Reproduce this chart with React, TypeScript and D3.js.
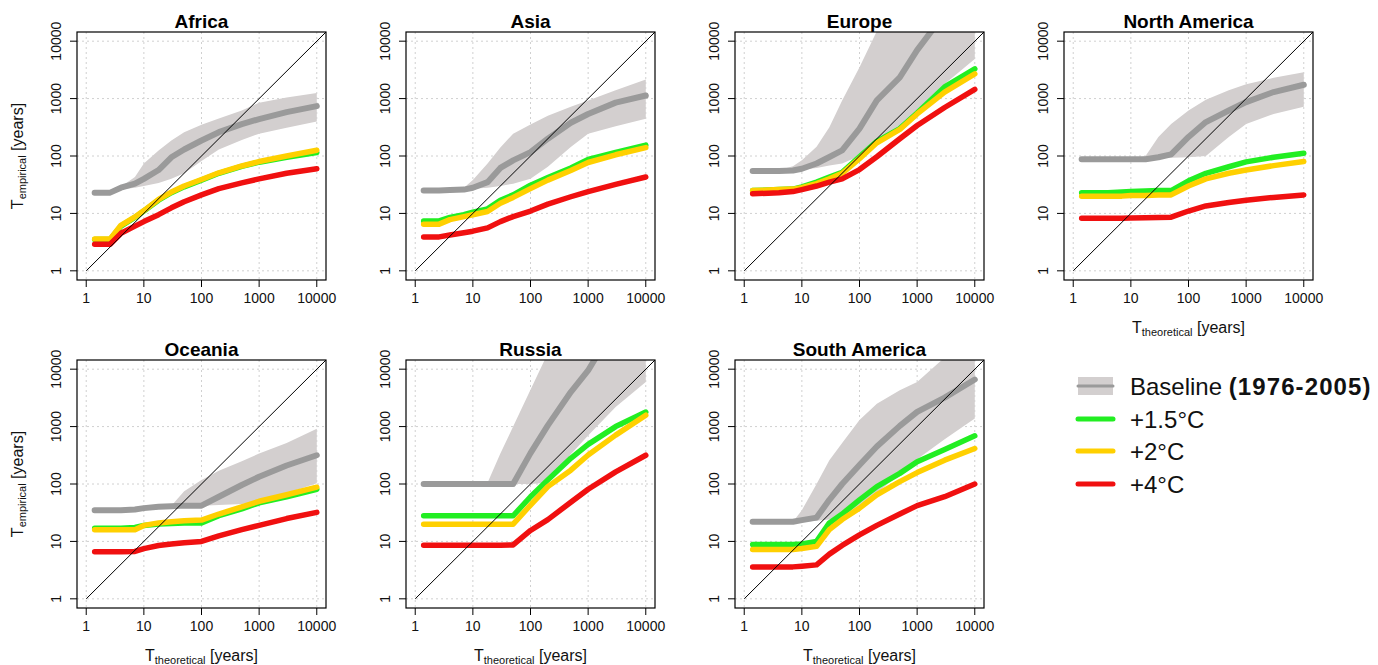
import React from "react";
import * as d3 from "d3";

// Common theoretical return periods (x grid, years)
const XS = [1.4, 2.6, 4, 7, 10, 18, 30, 50, 100, 200, 500, 1000, 3000, 10000];
const TICKS = [1, 10, 100, 1000, 10000];
const TICK_LABELS = ["1", "10", "100", "1000", "10000"];

// Africa
const AF_BASE = [23, 23, 28, 33, 40, 57, 95, 130, 186, 260, 360, 440, 580, 740];
const AF_LO = [23, 23, 26, 28, 30, 34, 40, 50, 82, 130, 190, 245, 310, 400];
const AF_HI = [23, 23, 29, 43, 74, 125, 186, 260, 350, 450, 620, 850, 1050, 1250];
const AF_P15 = [3.5, 3.5, 6, 8.5, 11, 17, 23, 29, 38, 50, 66, 78, 95, 115];
const AF_P2 = [3.6, 3.6, 6.2, 8.7, 11.2, 17.5, 23.5, 30, 39, 51, 67, 80, 100, 126];
const AF_P4 = [2.9, 2.9, 4.5, 6, 7.2, 9.5, 12.5, 16, 21, 27, 34, 40, 50, 60];

// Asia
const AS_BASE = [25, 25, 25.5, 26, 28, 35, 62, 84, 117, 200, 380, 540, 850, 1130];
const AS_LO = [25, 25, 25, 26, 27, 28, 30, 33, 40, 65, 144, 245, 330, 445];
const AS_HI = [25, 25, 25.5, 28, 38, 74, 140, 245, 355, 500, 720, 930, 1400, 2150];
const AS_P15 = [7.4, 7.4, 8.5, 9.5, 10.5, 12, 17, 21, 31, 42, 62, 87, 115, 155];
const AS_P2 = [6.5, 6.5, 7.8, 8.8, 9.5, 10.8, 15, 19, 27, 38, 56, 77, 105, 140];
const AS_P4 = [3.9, 3.9, 4.2, 4.6, 4.9, 5.6, 7.2, 8.8, 11, 14.5, 19.5, 24, 32, 43];

// Europe
const EU_BASE = [55, 55, 55, 56, 60, 74, 96, 125, 300, 930, 2350, 7000, 30000, 200000];
const EU_LO = [56, 56, 56, 56, 58, 62, 68, 74, 100, 160, 320, 630, 1800, 4900];
const EU_HI = [56, 56, 57, 66, 84, 145, 316, 930, 3500, 15000, 50000, 100000, 200000, 300000];
const EU_P15 = [25, 25.5, 26, 26.5, 29, 35, 43, 52, 97, 180, 300, 560, 1600, 3300];
const EU_P2 = [25, 25.5, 26, 26.5, 28, 33, 40, 50, 90, 170, 290, 540, 1300, 2700];
const EU_P4 = [22, 22.5, 23, 24, 26, 30, 35, 40, 58, 97, 200, 340, 700, 1450];

// North America
const NA_BASE = [88, 88, 88, 88, 88, 88, 95, 107, 215, 390, 620, 870, 1300, 1740];
const NA_LO = [88, 88, 88, 88, 88, 90, 92, 93, 95, 100, 215, 360, 540, 720];
const NA_HI = [88, 88, 88, 88, 88, 100, 214, 360, 620, 950, 1400, 1780, 2300, 2870];
const NA_P15 = [23, 23, 23, 23.5, 24, 24.5, 25, 25, 37, 50, 65, 79, 95, 112];
const NA_P2 = [20, 20, 20, 20, 20.5, 20.5, 21, 21, 30, 40, 50, 57, 68, 80];
const NA_P4 = [8.2, 8.2, 8.2, 8.2, 8.3, 8.4, 8.5, 8.6, 11, 13.5, 15.5, 17, 19, 21];

// Oceania
const OC_BASE = [35, 35, 35, 36, 38, 40, 41, 42, 42, 60, 96, 134, 210, 317];
const OC_LO = [35, 35, 35, 36, 38, 40, 41, 42, 42, 43, 45, 49, 69, 103];
const OC_HI = [35, 35, 35, 36, 38, 40, 42, 75, 117, 170, 250, 340, 520, 920];
const OC_P15 = [17, 17, 17, 17.5, 19, 20, 20.5, 21, 21, 28, 37, 47, 60, 81];
const OC_P2 = [16, 16, 16, 16, 19, 21, 22, 23, 23.5, 30, 40, 50, 65, 88];
const OC_P4 = [6.6, 6.6, 6.6, 6.7, 7.5, 8.5, 9, 9.5, 10, 12.5, 16, 19, 25, 32];

// Russia
const RU_BASE = [100, 100, 100, 100, 100, 100, 100, 100, 345, 1050, 4000, 9500, 60000, 400000];
const RU_LO = [100, 100, 100, 100, 100, 100, 100, 100, 100, 105, 330, 700, 2200, 6000];
const RU_HI = [100, 100, 100, 100, 100, 105, 340, 1000, 4400, 19000, 100000, 300000, 1000000, 3000000];
const RU_P15 = [28, 28, 28, 28, 28, 28, 28, 28, 60, 118, 280, 490, 1000, 1790];
const RU_P2 = [20, 20, 20, 20, 20, 20, 20, 20, 43, 90, 174, 320, 710, 1580];
const RU_P4 = [8.6, 8.6, 8.6, 8.6, 8.6, 8.6, 8.6, 8.7, 15.5, 24, 48, 81, 163, 317];

// South America
const SA_BASE = [22, 22, 22, 22, 23.5, 26, 53, 100, 215, 450, 1030, 1800, 3200, 6600];
const SA_LO = [22, 22, 22, 22, 22, 23, 24, 26, 43, 70, 150, 270, 600, 1380];
const SA_HI = [22, 22, 22, 22, 35, 100, 260, 520, 1300, 2500, 4300, 6000, 16000, 30000];
const SA_P15 = [8.8, 8.8, 8.8, 8.8, 9, 10, 21, 30, 53, 90, 153, 245, 400, 690];
const SA_P2 = [7.2, 7.2, 7.2, 7.2, 7.5, 8.2, 16, 24, 38, 65, 110, 158, 260, 415];
const SA_P4 = [3.6, 3.6, 3.6, 3.6, 3.7, 3.9, 6, 8.5, 13, 19, 30, 42, 60, 100];

const REGION_NAMES = ["Africa", "Asia", "Europe", "North America", "Oceania", "Russia", "South America"];
const LEGEND_LABELS = ["Baseline", "+1.5°C", "+2°C", "+4°C"];

const REGIONS = [
  { base: AF_BASE, lo: AF_LO, hi: AF_HI, p15: AF_P15, p2: AF_P2, p4: AF_P4 },
  { base: AS_BASE, lo: AS_LO, hi: AS_HI, p15: AS_P15, p2: AS_P2, p4: AS_P4 },
  { base: EU_BASE, lo: EU_LO, hi: EU_HI, p15: EU_P15, p2: EU_P2, p4: EU_P4 },
  { base: NA_BASE, lo: NA_LO, hi: NA_HI, p15: NA_P15, p2: NA_P2, p4: NA_P4 },
  { base: OC_BASE, lo: OC_LO, hi: OC_HI, p15: OC_P15, p2: OC_P2, p4: OC_P4 },
  { base: RU_BASE, lo: RU_LO, hi: RU_HI, p15: RU_P15, p2: RU_P2, p4: RU_P4 },
  { base: SA_BASE, lo: SA_LO, hi: SA_HI, p15: SA_P15, p2: SA_P2, p4: SA_P4 },
];

const C_BAND = "#d3cfcf";
const C_BASE = "#9a9a9a";
const C_15 = "#22ee22";
const C_2 = "#ffd000";
const C_4 = "#f01010";

const BOX_W = 249;
const BOX_H = 248;
const COL_X = [77, 406, 735, 1064];
const ROW_Y = [32, 360];
const DOMAIN = [Math.pow(10, -0.16), Math.pow(10, 4.16)];
const FONT = "'Liberation Sans', Arial, Helvetica, sans-serif";

function Panel({ idx }: { idx: number }) {
  const r = REGIONS[idx];
  const name = REGION_NAMES[idx];
  const col = idx % 4;
  const row = Math.floor(idx / 4);
  const x0 = COL_X[col];
  const y0 = ROW_Y[row];
  const showX = row === 1 || idx === 3;
  const showY = col === 0;
  const xs = d3.scaleLog().domain(DOMAIN).range([x0, x0 + BOX_W]);
  const ys = d3.scaleLog().domain(DOMAIN).range([y0 + BOX_H, y0]);
  const line = (vals: number[]) =>
    d3.line<number>().x((_, i) => xs(XS[i])).y((d) => ys(d))(vals) as string;
  const band = d3
    .area<number>()
    .x((d) => xs(d))
    .y0((_, i) => ys(r.lo[i]))
    .y1((_, i) => ys(r.hi[i]))(XS) as string;
  const clipId = `clip-${idx}`;
  const cx = x0 + BOX_W / 2;
  const cy = y0 + BOX_H / 2;
  const diag = d3.line<number>().x((d) => xs(d)).y((d) => ys(d))([1, DOMAIN[1]]) as string;
  return (
    <g>
      <defs>
        <clipPath id={clipId}>
          <rect x={x0} y={y0} width={BOX_W} height={BOX_H} />
        </clipPath>
      </defs>
      {TICKS.map((t) => (
        <g key={"g" + t}>
          <line x1={xs(t)} x2={xs(t)} y1={y0} y2={y0 + BOX_H} stroke="#d0d0d0" strokeWidth={1} strokeDasharray="2,3" />
          <line x1={x0} x2={x0 + BOX_W} y1={ys(t)} y2={ys(t)} stroke="#d0d0d0" strokeWidth={1} strokeDasharray="2,3" />
        </g>
      ))}
      <g clipPath={`url(#${clipId})`}>
        <path d={band} fill={C_BAND} stroke="none" />
        <path d={line(r.base)} fill="none" stroke={C_BASE} strokeWidth={6} strokeLinejoin="round" strokeLinecap="round" />
        <path d={line(r.p15)} fill="none" stroke={C_15} strokeWidth={5.5} strokeLinejoin="round" strokeLinecap="round" />
        <path d={line(r.p2)} fill="none" stroke={C_2} strokeWidth={5.5} strokeLinejoin="round" strokeLinecap="round" />
        <path d={line(r.p4)} fill="none" stroke={C_4} strokeWidth={5.5} strokeLinejoin="round" strokeLinecap="round" />
        <path d={diag} fill="none" stroke="#000" strokeWidth={1} />
      </g>
      <rect x={x0} y={y0} width={BOX_W} height={BOX_H} fill="none" stroke="#000" strokeWidth={1.2} />
      {TICKS.map((t, i) => (
        <g key={"x" + t}>
          <line x1={xs(t)} x2={xs(t)} y1={y0 + BOX_H} y2={y0 + BOX_H + 7} stroke="#000" strokeWidth={1} />
          <text x={xs(t)} y={y0 + BOX_H + 23} textAnchor="middle" fontSize={14} fontFamily={FONT} fill="#111">
            {TICK_LABELS[i]}
          </text>
        </g>
      ))}
      {TICKS.map((t, i) => (
        <g key={"y" + t}>
          <line x1={x0} x2={x0 - 7} y1={ys(t)} y2={ys(t)} stroke="#000" strokeWidth={1} />
          <text
            transform={`translate(${x0 - 16},${ys(t)}) rotate(-90)`}
            textAnchor="middle"
            fontSize={14}
            fontFamily={FONT}
            fill="#111"
          >
            {TICK_LABELS[i]}
          </text>
        </g>
      ))}
      <text x={cx} y={y0 - 4} textAnchor="middle" fontSize={19} fontWeight="bold" fontFamily={FONT} fill="#000">
        {name}
      </text>
      {showX && (
        <text x={cx} y={y0 + BOX_H + 53} textAnchor="middle" fontSize={16} fontFamily={FONT} fill="#111">
          <tspan>T</tspan>
          <tspan fontSize={11} dy={3}>theoretical</tspan>
          <tspan dy={-3}> [years]</tspan>
        </text>
      )}
      {showY && (
        <text transform={`translate(23,${cy}) rotate(-90)`} textAnchor="middle" fontSize={16} fontFamily={FONT} fill="#111">
          <tspan>T</tspan>
          <tspan fontSize={11} dy={3}>empirical</tspan>
          <tspan dy={-3}> [years]</tspan>
        </text>
      )}
    </g>
  );
}

function Legend() {
  const lx = 1078;
  const tx = 1130;
  const rows = [386, 419, 451, 484];
  const colors = [C_BASE, C_15, C_2, C_4];
  return (
    <g fontFamily={FONT} fontSize={24} fill="#111">
      <rect x={lx} y={rows[0] - 9} width={35} height={18} fill={C_BAND} />
      {rows.map((y, i) => (
        <line key={i} x1={lx} x2={lx + 35} y1={y} y2={y} stroke={colors[i]} strokeWidth={i === 0 ? 3 : 5} strokeLinecap="round" />
      ))}
      <text x={tx} y={rows[0] + 9}>
        {LEGEND_LABELS[0]} <tspan fontWeight="bold" letterSpacing={1.1}>(1976-2005)</tspan>
      </text>
      {rows.slice(1).map((y, i) => (
        <text key={i} x={tx} y={y + 9}>
          {LEGEND_LABELS[i + 1]}
        </text>
      ))}
    </g>
  );
}

export default function App() {
  return (
    <svg width={1378} height={665} style={{ position: "absolute", left: 0, top: 0, background: "#fff" }}>
      <rect x={0} y={0} width={1378} height={665} fill="#fff" />
      {REGION_NAMES.map((_, i) => (
        <Panel key={i} idx={i} />
      ))}
      <Legend />
    </svg>
  );
}
